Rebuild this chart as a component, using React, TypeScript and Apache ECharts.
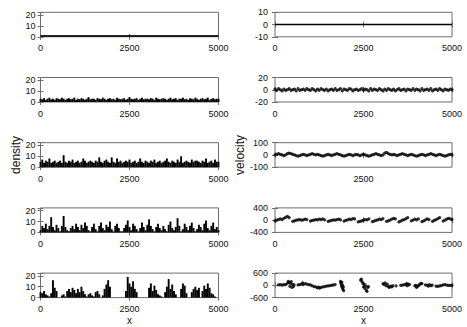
import { useEffect, useRef } from "react";
import * as echarts from "echarts";

// ---------- data ----------
const xMin = 0;
const xMax = 5000;
const xInterval = 2500;
const densityMax = 22.5;
const densityInterval = 10;
const velocityRanges = [10, 20, 100, 400, 600];

// row 1: uniform density (constant level), drawn as a filled band
const density1X = [0, 5000];
const density1 = [1, 1];

const density2 = [
  3, 2.5, 3.5, 2, 3, 4, 2.5, 3, 2, 3.5,
  3, 2.5, 4, 3, 2, 3, 3.5, 2.5, 3, 4,
  2, 3, 2.5, 3.5, 3, 2, 3, 4.5, 2.5, 3,
  3, 2, 3.5, 3, 2.5, 4, 3, 2, 3, 3.5,
  2.5, 3, 2, 4, 3, 2.5, 3, 3.5, 2, 3,
  4.5, 3, 2.5, 3, 3.5, 2, 3, 4, 2.5, 3,
  3, 2.5, 3.5, 3, 2, 4, 3, 2.5, 3, 3.5,
  3, 2, 3, 4, 2.5, 3, 3.5, 2, 3, 3,
  4, 2.5, 3, 2, 3.5, 3, 2.5, 4, 3, 2,
  3, 3.5, 2.5, 3, 4, 2, 3, 3.5, 2.5, 3,
  3,
];

const density3 = [
  5, 7, 4, 6, 5, 8, 4, 5, 6, 4,
  5, 6, 4, 11, 5, 4, 6, 5, 7, 4,
  5, 6, 4, 5, 8, 6, 4, 5, 6, 5,
  4, 6, 5, 9, 5, 4, 6, 7, 5, 4,
  9, 5, 4, 8, 5, 6, 4, 5, 6, 5,
  7, 4, 5, 6, 4, 5, 8, 5, 4, 6,
  5, 4, 6, 5, 7, 4, 5, 6, 4, 5,
  6, 8, 5, 4, 6, 5, 4, 7, 5, 10,
  4, 5, 6, 5, 4, 7, 5, 6, 6, 5,
  4, 6, 5, 8, 4, 5, 6, 4, 7, 5,
  5,
];

const density4 = [
  2, 6, 4, 8, 3, 6, 14, 5, 2, 7,
  4, 1, 6, 15, 5, 2, 1, 4, 6, 3,
  8, 5, 2, 7, 4, 9, 6, 2, 1, 5,
  8, 3, 1, 6, 9, 4, 2, 7, 5, 10,
  3, 1, 6, 8, 4, 1, 1, 4, 7, 11,
  5, 2, 8, 6, 3, 1, 4, 9, 5, 2,
  7, 12, 6, 3, 1, 5, 8, 4, 2, 6,
  3, 1, 7, 10, 4, 2, 5, 13, 6, 1,
  3, 8, 5, 2, 6, 9, 4, 1, 3, 7,
  5, 2, 8, 11, 4, 2, 6, 9, 3, 5,
  2,
];

const density5 = [
  5, 4, 6, 3, 2, 1, 4, 16, 9, 6,
  0, 0, 2, 3, 1, 6, 8, 5, 9, 7,
  4, 8, 5, 10, 6, 3, 1, 3, 4, 2,
  1, 5, 6, 3, 0, 2, 8, 12, 16, 10,
  0, 0, 0, 0, 0, 0, 0, 0, 6, 19,
  13, 10, 15, 8, 5, 0, 0, 0, 0, 0,
  0, 9, 13, 6, 11, 7, 3, 2, 1, 0,
  5, 10, 17, 8, 12, 6, 3, 0, 0, 8,
  13, 11, 4, 0, 0, 5, 8, 10, 7, 9,
  0, 6, 11, 8, 13, 9, 4, 3, 1, 0,
  0,
];

// row 1: zero velocity everywhere, drawn as a line
const velocity1X = [0, 5000];
const velocity1 = [0, 0];

const velocity2 = [
  1, -1, 2, 0, -2, 1, -1, 0, 2, -1,
  0, 1, -2, 2, -1, 0, 1, -1, 2, 0,
  -1, 2, 0, -2, 1, -1, 2, 0, -1, 1,
  -2, 0, 1, -1, 2, -1, 0, 2, -2, 1,
  0, -1, 2, 1, -2, 0, 1, -1, 0, 2,
  -1, 1, 0, -2, 2, -1, 1, 0, -1, 2,
  0, -2, 1, -1, 2, 0, -1, 1, -2, 0,
  2, -1, 0, 1, -2, 1, 0, -1, 2, -1,
  1, 0, -2, 2, -1, 0, 1, -1, 2, -2,
  0, 1, -1, 2, 0, -2, 1, 0, -1, 1,
  0,
];

const velocity3 = [
  0, 5, 10, 5, 0, -5, 0, 10, 15, 10,
  5, 0, -5, -10, -5, 0, 5, 0, -5, 0,
  5, 10, 5, 0, 5, 0, -5, -10, -5, 0,
  5, 0, -5, 0, 5, 10, 5, 0, -5, -10,
  -5, 0, 5, 0, -5, 0, 5, 0, -5, 0,
  5, 0, -5, -10, -5, 0, 5, 10, 5, 0,
  -5, 0, 15, 20, 10, 5, 0, 5, 0, -5,
  0, 5, 10, 5, 0, -5, 0, 5, 0, -5,
  -10, -5, 0, 5, 0, -5, 0, 5, 10, 5,
  0, -5, 0, 5, 0, -5, -10, -5, 0, 5,
  0,
];

const velocity4 = [
  -20, 0, 20, 40, 20, 60, 90, 120, 80, null,
  -40, -20, 0, 10, 20, 0, 10, 30, 20, null,
  -30, -10, 0, 20, 10, 30, 20, 40, 10, null,
  -40, -20, -10, 10, 0, 20, 30, 10, null, -30,
  -10, 10, 30, 20, 50, 40, null, -60, -40, -20,
  0, 20, 10, 40, null, -50, -30, -10, 10, 30,
  20, 50, null, -40, -20, 0, 30, 60, 40, null,
  -60, -30, 0, 20, 50, 80, null, -20, 0, 30,
  10, 40, null, -50, -20, 10, 40, 20, null, -40,
  -10, 20, 50, 80, null, -30, 0, 30, 60, 40,
  20,
];

const velocity5X = [
  100, 150, 200, 250, 300,
  350, 375, 400, 420, 440, 460, 480, 500, 520, 540,
  650, 700, 750, 780, 800, 850, 900, 950, 1000,
  1050, 1100, 1150, 1200, 1230, 1260, 1300, 1350, 1400,
  1450, 1500, 1550, 1600, 1650, 1700,
  1850, 1860, 1870, 1880, 1890, 1900, 1910, 1920, 1930, 1940,
  2420, 2440, 2460, 2480, 2500, 2520, 2540, 2560, 2580, 2600, 2620, 2640,
  3050, 3080, 3110, 3140, 3170, 3200, 3230, 3260, 3300, 3330,
  3420,
  3550, 3600, 3650, 3700, 3720, 3740, 3760, 3800,
  3950, 3980, 4000, 4030, 4060, 4090, 4120, 4150,
  4250, 4300, 4330, 4360, 4400, 4440,
  4550, 4600, 4650, 4700, 4750, 4800, 4850, 4900, 4950, 5000,
];
const velocity5 = [
  20, 30, 10, 40, 30,
  100, 200, 150, -50, 80, 180, -100, 50, -60, 20,
  20, 30, 60, 120, 40, 80, 60, 30, 20,
  -20, -60, -80, -120, -90, -140, -100, -80, -60,
  -40, -30, -10, 0, 20, 40,
  200, 120, 60, -40, 150, -120, 0, -200, -80, -260,
  250, 300, 180, 100, -80, 60, -150, -20, -250, -300, -100, -60,
  80, 40, 120, -20, 60, -60, -100, -40, -80, -20,
  -30,
  0, 10, 40, 20, 80, -20, 60, 40,
  -30, 0, -100, -50, 0, 50, 100, 80,
  20, 0, -40, 30, -20, 10,
  -40, -50, -30, -10, 20, 40, 10, 0, 0, 0,
];

// ---------- styling ----------
const FONT = "'Liberation Sans', Arial, Helvetica, sans-serif";
const TEXT = "#111";
const BORDER = "#6e6e6e";
const INK = "#000";
const GRID_LEFT = [40.5, 275];
const GRID_W = [178, 177];
const GRID_TOP0 = 12.3;
const GRID_STEP = 65.2;
const GRID_H = 24.5;

function evenPairs(vals: (number | null)[]) {
  const n = vals.length;
  const out: number[][] = [];
  vals.forEach((v, i) => {
    if (v !== null) out.push([xMin + (i * (xMax - xMin)) / (n - 1), v]);
  });
  return out;
}
function zipPairs(xs: number[], ys: number[]) {
  return xs.map((x, i) => [x, ys[i]]);
}

function buildOption() {
  const grid: any[] = [];
  const xAxis: any[] = [];
  const yAxis: any[] = [];
  const series: any[] = [];

  const densityData = [
    zipPairs(density1X, density1),
    evenPairs(density2),
    evenPairs(density3),
    evenPairs(density4),
    evenPairs(density5),
  ];
  const velocityData = [
    zipPairs(velocity1X, velocity1),
    evenPairs(velocity2),
    evenPairs(velocity3),
    evenPairs(velocity4),
    zipPairs(velocity5X, velocity5),
  ];

  const tickStyle = { inside: true, length: 3, lineStyle: { color: BORDER, width: 1 } };
  const labelBase = { fontSize: 9, color: TEXT, fontFamily: FONT };

  for (let col = 0; col < 2; col++) {
    for (let row = 0; row < 5; row++) {
      const g = grid.length;
      const isVel = col === 1;
      grid.push({
        left: GRID_LEFT[col],
        top: GRID_TOP0 + row * GRID_STEP,
        width: GRID_W[col],
        height: GRID_H,
        show: true,
        borderColor: BORDER,
        borderWidth: 1,
        backgroundColor: "transparent",
      });
      const yMin = isVel ? -velocityRanges[row] : 0;
      const yMax = isVel ? velocityRanges[row] : densityMax;
      const yInt = isVel ? velocityRanges[row] : densityInterval;
      const onlyMid = isVel && row === 2;

      xAxis.push({
        gridIndex: g,
        type: "value",
        position: "bottom",
        min: xMin,
        max: xMax,
        interval: xInterval,
        axisLine: { show: false },
        axisTick: tickStyle,
        splitLine: { show: false },
        axisLabel: {
          ...labelBase,
          margin: 7,
          formatter: (v: number) => (onlyMid && v !== 2500 ? "" : String(v)),
        },
        name: row === 4 ? "x" : "",
        nameLocation: "middle",
        nameGap: 18,
        nameTextStyle: { fontSize: 10, color: TEXT, fontFamily: FONT },
      });
      xAxis.push({
        gridIndex: g,
        type: "value",
        position: "top",
        min: xMin,
        max: xMax,
        interval: xInterval,
        axisLine: { show: false },
        axisTick: tickStyle,
        splitLine: { show: false },
        axisLabel: { show: false },
      });
      yAxis.push({
        gridIndex: g,
        type: "value",
        position: "left",
        min: yMin,
        max: yMax,
        interval: yInt,
        axisLine: { show: false },
        axisTick: tickStyle,
        splitLine: { show: false },
        axisLabel: {
          ...labelBase,
          margin: isVel ? 7 : 5,
          formatter: (v: number) => (v % yInt === 0 ? String(v) : ""),
        },
        name: row === 2 ? (isVel ? "velocity" : "density") : "",
        nameLocation: "middle",
        nameRotate: 90,
        nameGap: isVel ? 27 : 19,
        nameTextStyle: { fontSize: 12, color: TEXT, fontFamily: FONT },
      });
      yAxis.push({
        gridIndex: g,
        type: "value",
        position: "right",
        min: yMin,
        max: yMax,
        interval: yInt,
        axisLine: { show: false },
        axisTick: tickStyle,
        splitLine: { show: false },
        axisLabel: { show: false },
      });

      const xi = 2 * g;
      const yi = 2 * g;
      if (!isVel) {
        if (row === 0) {
          series.push({
            type: "line",
            xAxisIndex: xi,
            yAxisIndex: yi,
            data: densityData[row],
            symbol: "none",
            lineStyle: { color: INK, width: 1 },
            areaStyle: { color: INK, opacity: 1 },
          });
        } else {
          series.push({
            type: "bar",
            xAxisIndex: xi,
            yAxisIndex: yi,
            data: densityData[row],
            barWidth: 1.9,
            itemStyle: { color: INK },
          });
        }
      } else {
        if (row === 0) {
          series.push({
            type: "line",
            xAxisIndex: xi,
            yAxisIndex: yi,
            data: velocityData[row],
            symbol: "none",
            lineStyle: { color: INK, width: 1.5 },
          });
        } else {
          series.push({
            type: "scatter",
            xAxisIndex: xi,
            yAxisIndex: yi,
            data: velocityData[row],
            symbol: "circle",
            symbolSize: 3.2,
            itemStyle: { color: INK },
          });
        }
      }
    }
  }

  return {
    animation: false,
    backgroundColor: "#fff",
    textStyle: { fontFamily: FONT },
    grid,
    xAxis,
    yAxis,
    series,
  };
}

export default function App() {
  const ref = useRef<HTMLDivElement>(null);
  useEffect(() => {
    const chart = echarts.init(ref.current as HTMLDivElement, undefined, { renderer: "svg" });
    chart.setOption(buildOption() as any);
    return () => chart.dispose();
  }, []);
  return (
    <div
      ref={ref}
      style={{ position: "fixed", left: 0, top: 0, width: 467, height: 327 }}
    />
  );
}
